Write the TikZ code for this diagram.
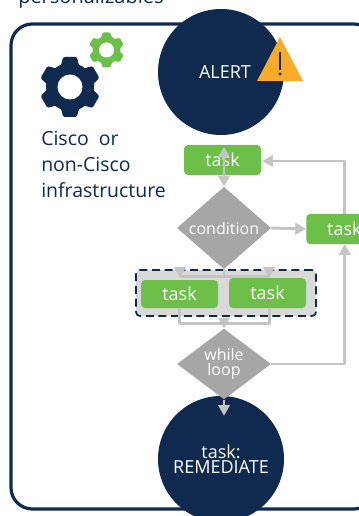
\documentclass[tikz,border=0pt]{standalone}
\usepackage{fontspec}
\setmainfont{Open Sans}
\usetikzlibrary{shapes.geometric,arrows.meta,calc}
\definecolor{navy}{HTML}{0F2A4E}
\definecolor{leaf}{HTML}{6EBE4A}
\definecolor{stone}{HTML}{A6A6A6}
\definecolor{wire}{HTML}{C4C4C4}
\definecolor{amber}{HTML}{FBAB2C}
\definecolor{panel}{HTML}{D9D9D9}
\tikzset{
  big/.style={circle,fill=navy,text=white,minimum size=94.5pt,inner sep=0pt,align=center,font=\fontsize{13.5}{14}\selectfont},
  taskbox/.style={rectangle,rounded corners=3pt,fill=leaf,text=white,minimum width=57.75pt,inner sep=0pt,font=\fontsize{13.5}{14}\selectfont},
  gate/.style={diamond,fill=stone,text=white,minimum width=70.5pt,minimum height=42pt,inner sep=0pt,align=center,font=\fontsize{12}{11.5}\selectfont},
  wireline/.style={draw=wire,line width=2.2pt,line join=round},
  tip/.style={-{Triangle[length=8pt,width=8.5pt]}},
  tipboth/.style={{Triangle[length=8pt,width=8.5pt]}-{Triangle[length=8pt,width=8.5pt]}},
}
\newcommand{\gearshape}[6]{% x y R r w colour
  \begin{scope}[shift={(#1,#2)}]
    \fill[#6] (0,0) circle[radius=#4];
    \foreach \a in {0,60,...,300}
      \fill[#6,rotate=\a,rounded corners=1pt] (-#5*0.8,-#3) -- (#5*0.8,-#3) -- (#5*1.15,-#4*0.8) -- (-#5*1.15,-#4*0.8) -- cycle;
  \end{scope}}
\begin{document}
\begin{tikzpicture}[x=0.75pt,y=-0.75pt]
\useasboundingbox (0,0) rectangle (359,516);
\clip (0,0) rectangle (359,516);
\fill[white] (0,0) rectangle (359,516);
\node[anchor=base west,text=navy,font=\fontsize{15}{16}\selectfont,inner sep=0pt] (head) at (18,4) {personalizables};
\draw[navy,line width=2.4pt,rounded corners=16pt] (11,24) rectangle (375,509);
% gears
\gearshape{70}{87}{30}{24}{8.5}{navy}
\fill[white] (70,87) circle[radius=12.5];
\gearshape{106.5}{50}{17.5}{14}{5}{leaf}
\fill[white] (106.5,50) circle[radius=7.5];
\node[anchor=north west,text=navy,align=left,inner sep=0pt,font=\fontsize{14.6}{19.5}\selectfont] (infra) at (41,131) {Cisco\ \ or\\non-Cisco\\infrastructure};
% nodes
\node[big] (alert) at (221,72) {\hspace*{6pt}ALERT};
\node[big] (fix) at (221,459) {task:\\[-3pt]REMEDIATE};
\node[taskbox,minimum height=22.5pt] (t1) at (222.5,160) {task};
\node[taskbox,minimum height=22.5pt,anchor=west] (tr) at (306,229) {\hspace*{-0.5pt}task};
\node[gate] (cond) at (224,228) {condition};
\node[gate] (loop) at (224,364) {while\\loop};
\node[rectangle,rounded corners=3pt,fill=panel,draw=navy,line width=1.3pt,dash pattern=on 6pt off 3.5pt,minimum width=135pt,minimum height=34.5pt] (grp) at (226,293) {};
\node[taskbox,minimum height=21pt] (t2) at (179.5,294) {task};
\node[taskbox,minimum height=22.5pt] (t3) at (267.5,293) {task};
% warning triangle
\fill[amber] (257,81) -- (280,37) -- (303,81) -- cycle;
\draw[navy,line width=1.1pt] (280,52) -- (280,70);
\fill[navy] (280,74) circle[radius=1.7];
% connectors
\coordinate (split) at ($(cond.south)+(0,7)$);
\coordinate (join) at ($(grp.south)+(-2,7)$);
\coordinate (t1top) at ($(t1.north)+(1.5,2)$);
\coordinate (trtop) at ($(tr.north)+(0,0)$);
\draw[wireline,tipboth] (t1top) -- (cond.north);
\draw[wireline,tip] (cond.east) -- (tr.west);
\draw[wireline,tip] (tr.north) |- ($(t1.east)+(1,1)$);
\draw[wireline,tip] (loop.east) -| (tr.south);
\draw[wireline] (cond.south) -- (split);
\draw[wireline,tip] (split) -| ($(t2.north)+(0.5,-2)$);
\draw[wireline,tip] (split) -| ($(t3.north)+(1.5,0)$);
\draw[wireline] (t2.south) |- (join);
\draw[wireline] ($(t3.south)+(2,0)$) |- (join);
\draw[wireline,tip] (join) -- (loop.north);
\draw[wireline,tip] (loop.south) -- ($(fix.north)+(3,20)$);
\end{tikzpicture}
\end{document}
